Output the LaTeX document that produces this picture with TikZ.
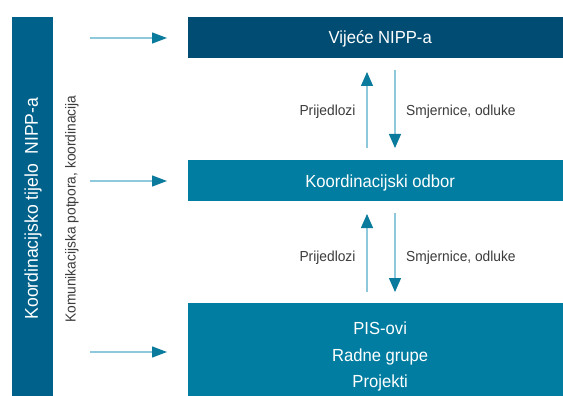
\documentclass[tikz,border=0pt]{standalone}
\usepackage{fontspec}
\setmainfont{Liberation Sans}[FakeStretch=0.95]
\usetikzlibrary{arrows.meta}
\definecolor{navy}{HTML}{004C73}
\definecolor{tealbox}{HTML}{007DA0}
\definecolor{barblue}{HTML}{00628B}
\definecolor{lineblue}{HTML}{8DC8DB}
\definecolor{headteal}{HTML}{0A7B9C}
\definecolor{labelgray}{HTML}{3C3C3C}
\begin{document}
\begin{tikzpicture}[x=1pt,y=1pt,
  box/.style={fill=#1, draw=none, text=white, inner sep=0pt, anchor=north west,
    font=\fontsize{17.5}{26.3}\selectfont},
  onerow/.style={text height=12.6pt, text depth=0pt},
  lbl/.style={text=labelgray, font=\fontsize{14.5}{17}\selectfont, inner sep=0pt},
  flow/.style={draw=lineblue, line width=1.3pt,
    -{Triangle[length=14pt,width=12pt,color=headteal]}},
  side/.style={draw=lineblue, line width=1.3pt,
    -{Triangle[length=15pt,width=11pt,color=headteal]}}]
\clip (0,0) rectangle (563,-396);
\fill[white] (0,0) rectangle (563,-396);

% left bar
\node[box=barblue, minimum width=41pt, minimum height=400pt] (bar) at (12,-17) {};
\node[text=white, rotate=90, font=\fontsize{18.5}{20}\selectfont, inner sep=0pt] (bartext) at (33,-208.5) {Koordinacijsko tijelo\ \ NIPP-a};
\node[lbl, rotate=90] (komu) at (72,-209) {Komunikacijska potpora, koordinacija};

% boxes
\node[box=navy, onerow, minimum width=384pt, minimum height=41pt] (vijece) at (188,-17) {Vijeće NIPP-a};
\node[box=tealbox, onerow, minimum width=384pt, minimum height=41pt] (odbor) at (188,-160) {Koordinacijski odbor};
\node[box=tealbox, align=center, minimum width=384pt, minimum height=106.6pt] (pis) at (188,-303) {PIS-ovi\\Radne grupe\\Projekti};

% side arrows
\coordinate (s1a) at (90,-38);  \coordinate (s1b) at (167,-38);
\coordinate (s2a) at (90,-181); \coordinate (s2b) at (167,-181);
\coordinate (s3a) at (90,-352); \coordinate (s3b) at (167,-352);
\draw[side] (s1a) -- (s1b);
\draw[side] (s2a) -- (s2b);
\draw[side] (s3a) -- (s3b);

% vertical arrows upper
\coordinate (u1a) at (367,-148); \coordinate (u1b) at (367,-72);
\coordinate (d1a) at (395,-70);  \coordinate (d1b) at (395,-148);
\draw[flow] (u1a) -- (u1b);
\draw[flow] (d1a) -- (d1b);
\node[lbl, anchor=base] (p1) at (327.5,-115.7) {Prijedlozi};
\node[lbl, anchor=base west] (sm1) at (406,-115.7) {Smjernice, odluke};

% vertical arrows lower
\coordinate (u2a) at (367,-292); \coordinate (u2b) at (367,-214);
\coordinate (d2a) at (395,-213); \coordinate (d2b) at (395,-292);
\draw[flow] (u2a) -- (u2b);
\draw[flow] (d2a) -- (d2b);
\node[lbl, anchor=base] (p2) at (327.5,-261.5) {Prijedlozi};
\node[lbl, anchor=base west] (sm2) at (406,-261.5) {Smjernice, odluke};
\end{tikzpicture}
\end{document}
